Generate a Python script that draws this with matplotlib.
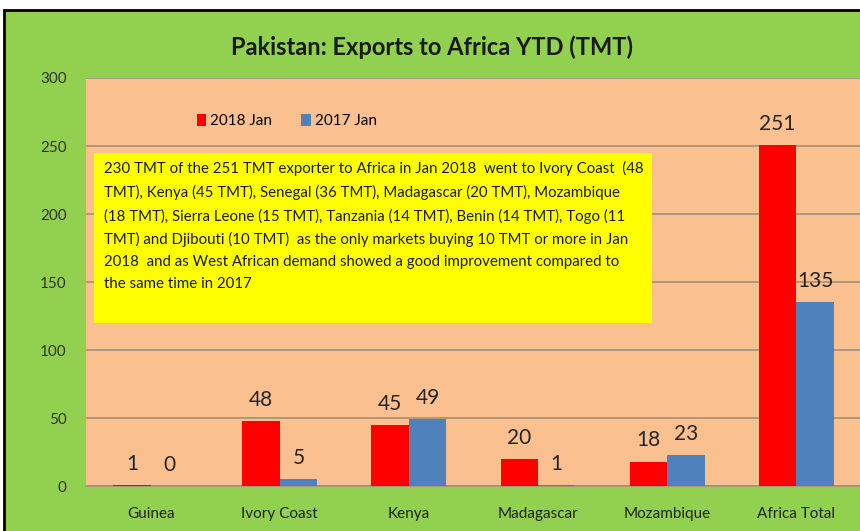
import numpy as np
import matplotlib.pyplot as plt
from matplotlib.patches import Rectangle

plt.rcParams['font.family'] = ['Lato', 'DejaVu Sans']

countries = ['Guinea', 'Ivory Coast', 'Kenya', 'Madagascar', 'Mozambique', 'Africa Total']
jan_2018 = [1, 48, 45, 20, 18, 251]
jan_2017 = [0, 5, 49, 1, 23, 135]
y_ticks = [0, 50, 100, 150, 200, 250, 300]

note = ("230 TMT of the 251 TMT exporter to Africa in Jan 2018  went to Ivory Coast  (48\n"
        "TMT), Kenya (45 TMT), Senegal (36 TMT), Madagascar (20 TMT), Mozambique\n"
        "(18 TMT), Sierra Leone (15 TMT), Tanzania (14 TMT), Benin (14 TMT), Togo (11\n"
        "TMT) and Djibouti (10 TMT)  as the only markets buying 10 TMT or more in Jan\n"
        "2018  and as West African demand showed a good improvement compared to\n"
        "the same time in 2017")

W, H = 860, 531
fig = plt.figure(figsize=(8.6, 5.31), dpi=100)
fig.patch.set_facecolor('white')

# green chart background with black frame
fig.patches.append(Rectangle((4 / W, -0.05), 1.1, 1 - 10 / H + 0.05, transform=fig.transFigure,
                             facecolor='#92D050', edgecolor='black', linewidth=2, zorder=-1))

ax = fig.add_axes([86 / W, 1 - 486 / H, 1 - 86 / W + 0.001, (486 - 78) / H])
ax.set_zorder(1)
ax.set_facecolor('#FAC090')

x = np.arange(len(countries))
w = 0.29
b1 = ax.bar(x - w / 2, jan_2018, w, color='#FF0000', label='2018 Jan', zorder=3)
b2 = ax.bar(x + w / 2, jan_2017, w, color='#4F81BD', label='2017 Jan', zorder=3)

for bars in (b1, b2):
    for r in bars:
        ax.annotate(f'{r.get_height():.0f}', (r.get_x() + r.get_width() / 2, r.get_height()),
                    xytext=(0, 8), textcoords='offset points', ha='center', va='bottom',
                    fontsize=15, color='#262626')

ax.set_xlim(-0.5, len(countries) - 0.5)
ax.set_ylim(0, 300)
ax.set_yticks(y_ticks)
ax.set_xticks(x)
ax.set_xticklabels(countries, fontsize=11, color='#222222')
ax.tick_params(axis='y', labelsize=11, colors='#333333', length=0, pad=14)
ax.tick_params(axis='x', length=0, pad=15)
ax.grid(axis='y', color='#A09080', linewidth=1.2, zorder=1)
for s in ['top', 'right', 'left']:
    ax.spines[s].set_visible(False)
ax.spines['bottom'].set_color('#A09080')
ax.spines['bottom'].set_linewidth(1.2)

fig.text(432 / W, 1 - 47 / H, 'Pakistan: Exports to Africa YTD (TMT)', ha='center', va='center',
         fontsize=17, fontweight='bold', color='#1a1a1a')

ax.legend(loc='center left', bbox_to_anchor=(189 / W, 1 - 121 / H), bbox_transform=fig.transFigure,
          ncol=2, frameon=False, fontsize=11, handlelength=0.6, handleheight=0.9,
          handletextpad=0.3, columnspacing=1.9, borderpad=0)

fig.patches.append(Rectangle((94 / W, 1 - 323 / H), 558 / W, 170 / H, transform=fig.transFigure,
                             facecolor='#FFFF00', edgecolor='none', zorder=5))
fig.text(104 / W, 1 - 161 / H, note, ha='left', va='top', fontsize=10.8, linespacing=1.72,
         color='#1a1a1a', zorder=6)

fig.savefig('out.png', dpi=100)
